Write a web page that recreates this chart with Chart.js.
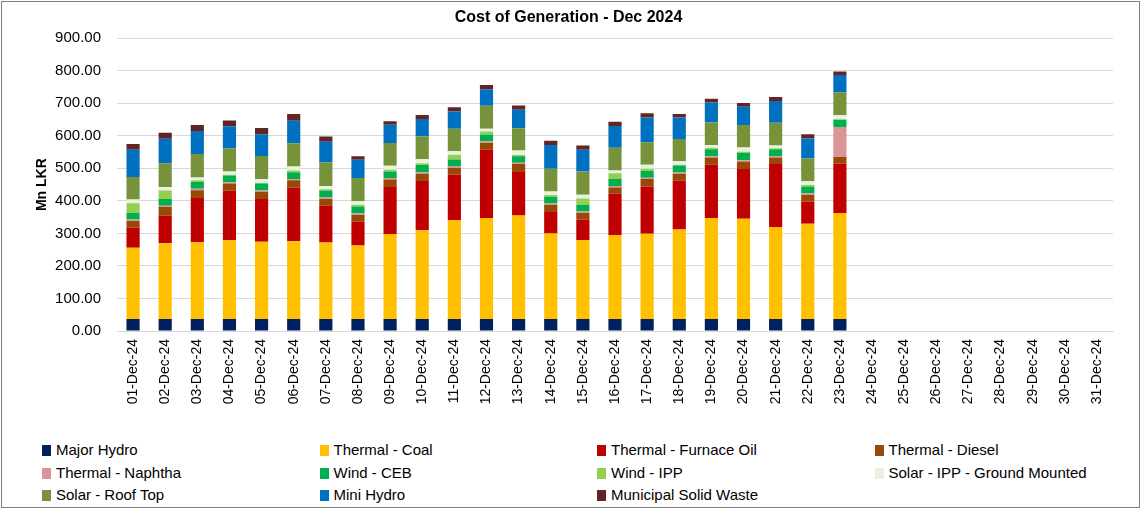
<!DOCTYPE html>
<html lang="en">

<head>
    <meta charset="UTF-8">
    <title>Cost of Generation - Dec 2024</title>
    <script src="https://cdn.jsdelivr.net/npm/chart.js"></script>
    <style>
        body { margin: 0; background: #fff; font-family: "Liberation Sans", Arial, sans-serif; }
        #wrap { position: relative; width: 1144px; height: 509px; }
        #frame { position: absolute; left: 1px; top: 1px; width: 1137px; height: 505px; border: 1px solid #7f7f7f; }
        #costChart { position: absolute; left: 0; top: 0; }
        #legend {
            position: absolute; left: 42px; top: 439px;
            display: grid; grid-template-columns: repeat(4, 277.5px);
            font-size: 15px; color: #000;
        }
        #legend div { height: 22.5px; line-height: 22.5px; white-space: nowrap; }
        #legend span { display: inline-block; width: 9px; height: 11px; margin-right: 5px; vertical-align: -1px; }
    </style>
</head>

<body>
    <div id="wrap">
        <div id="frame"></div>
        <canvas id="costChart" width="1144" height="420"></canvas>
        <div id="legend"></div>
    </div>
    <script>
        // days of the month
        const days = [];
        for (let d = 1; d <= 31; d++) days.push(String(d).padStart(2, '0') + '-Dec-24');

        // Mn LKR per day (only 1-23 Dec reported)
        const majorHydro = [37, 37, 37, 37, 37, 37, 37, 37, 37, 37, 37, 37, 37, 37, 37, 37, 37, 37, 37, 37, 37, 37, 37];
        const coal = [219, 233, 236, 242, 237, 239, 235, 226, 261, 273, 304, 310, 318, 263, 243, 258, 262, 275, 310, 308, 283, 293, 326];
        const furnaceOil = [62, 84, 136, 152, 132, 165, 113, 73, 145, 151, 139, 210, 134, 66, 63, 127, 145, 150, 164, 153, 193, 68, 151];
        const diesel = [20, 27, 24, 22, 22, 22, 21, 21, 23, 22, 22, 22, 24, 22, 20, 19, 23, 21, 22, 23, 20, 20, 21];
        const naphtha = [5, 4, 4, 4, 4, 4, 4, 5, 4, 4, 5, 4, 4, 4, 4, 5, 4, 4, 4, 4, 4, 5, 92];
        const windCEB = [20, 21, 21, 21, 21, 21, 22, 21, 20, 23, 20, 21, 20, 20, 21, 21, 21, 22, 22, 22, 22, 21, 22];
        const windIPP = [30, 26, 5, 2, 3, 5, 4, 5, 6, 6, 15, 9, 4, 6, 19, 18, 7, 2, 4, 4, 3, 5, 2];
        const solarIPP = [11, 11, 9, 10, 11, 13, 10, 11, 12, 12, 11, 9, 14, 11, 12, 8, 12, 11, 9, 13, 8, 11, 12];
        const roofTop = [69, 73, 72, 71, 71, 71, 72, 71, 70, 71, 69, 70, 68, 70, 71, 70, 69, 68, 69, 69, 70, 70, 70];
        const miniHydro = [84, 75, 71, 68, 67, 69, 64, 56, 56, 53, 53, 51, 57, 73, 67, 67, 76, 66, 61, 56, 67, 62, 54];
        const msw = [18, 18, 18, 18, 19, 21, 16, 11, 11, 12, 13, 13, 13, 13, 13, 13, 13, 11, 12, 12, 12, 13, 11];

        const series = [
            ['Major Hydro', majorHydro, '#002060'],
            ['Thermal - Coal', coal, '#FFC000'],
            ['Thermal - Furnace Oil', furnaceOil, '#C00000'],
            ['Thermal - Diesel', diesel, '#984807'],
            ['Thermal - Naphtha', naphtha, '#DA9694'],
            ['Wind - CEB', windCEB, '#00B050'],
            ['Wind - IPP', windIPP, '#92D050'],
            ['Solar - IPP - Ground Mounted', solarIPP, '#EBF1DE'],
            ['Solar - Roof Top', roofTop, '#76933C'],
            ['Mini Hydro', miniHydro, '#0070C0'],
            ['Municipal Solid Waste', msw, '#632523']
        ];

        const ctx = document.getElementById('costChart').getContext('2d');
        const chart = new Chart(ctx, {
            type: 'bar',
            data: {
                labels: days,
                datasets: series.map(s => ({
                    label: s[0],
                    data: s[1],
                    backgroundColor: s[2],
                    borderWidth: 0,
                    categoryPercentage: 1,
                    barPercentage: 0.41
                }))
            },
            options: {
                responsive: false,
                animation: false,
                layout: { padding: { left: 24, right: 31, top: 0, bottom: 0 } },
                plugins: {
                    legend: { display: false },
                    tooltip: { enabled: false },
                    title: {
                        display: true,
                        text: 'Cost of Generation - Dec 2024',
                        color: '#000',
                        font: { family: 'Liberation Sans', size: 16, weight: 'bold' },
                        padding: { top: 8, bottom: 11 }
                    }
                },
                scales: {
                    x: {
                        stacked: true,
                        grid: { display: false, drawTicks: false },
                        border: { color: '#d9d9d9' },
                        ticks: {
                            minRotation: 90, maxRotation: 90, autoSkip: false, padding: 8,
                            color: '#000',
                            font: { family: 'Liberation Sans', size: 14 }
                        },
                        afterFit: scale => { scale.height = 89; }
                    },
                    y: {
                        stacked: true,
                        min: 0,
                        max: 900,
                        grid: { color: '#d9d9d9', drawTicks: false },
                        border: { display: false },
                        ticks: {
                            stepSize: 100, padding: 16, color: '#000',
                            font: { family: 'Liberation Sans', size: 15 },
                            callback: v => v.toFixed(2)
                        },
                        title: {
                            display: true, text: 'Mn LKR', color: '#000',
                            font: { family: 'Liberation Sans', size: 14, weight: 'bold' },
                            padding: { top: 10, bottom: 0 }
                        },
                        afterFit: scale => { scale.width = 93; }
                    }
                }
            }
        });

        // legend in four columns, like the sheet
        const legend = document.getElementById('legend');
        series.forEach(s => {
            const item = document.createElement('div');
            item.innerHTML = '<span style="background:' + s[2] + '"></span>' + s[0];
            legend.appendChild(item);
        });
    </script>
</body>

</html>
